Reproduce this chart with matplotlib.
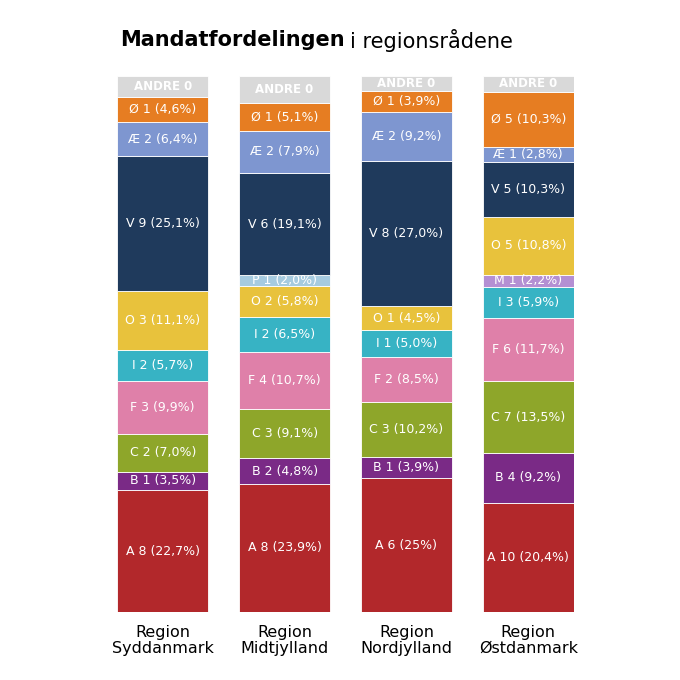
import matplotlib.pyplot as plt

regions = ["Region\nSyddanmark", "Region\nMidtjylland", "Region\nNordjylland", "Region\nØstdanmark"]
# bottom to top per region: (party, seats, percent)
parties = [
    ["A", "B", "C", "F", "I", "O", "V", "Æ", "Ø"],
    ["A", "B", "C", "F", "I", "O", "P", "V", "Æ", "Ø"],
    ["A", "B", "C", "F", "I", "O", "V", "Æ", "Ø"],
    ["A", "B", "C", "F", "I", "M", "O", "V", "Æ", "Ø"],
]
seats = [
    [8, 1, 2, 3, 2, 3, 9, 2, 1],
    [8, 2, 3, 4, 2, 2, 1, 6, 2, 1],
    [6, 1, 3, 2, 1, 1, 8, 2, 1],
    [10, 4, 7, 6, 3, 1, 5, 5, 1, 5],
]
pct = [
    [22.7, 3.5, 7.0, 9.9, 5.7, 11.1, 25.1, 6.4, 4.6],
    [23.9, 4.8, 9.1, 10.7, 6.5, 5.8, 2.0, 19.1, 7.9, 5.1],
    [25.0, 3.9, 10.2, 8.5, 5.0, 4.5, 27.0, 9.2, 3.9],
    [20.4, 9.2, 13.5, 11.7, 5.9, 2.2, 10.8, 10.3, 2.8, 10.3],
]
colors = {"A": "#b2282b", "B": "#7a2a86", "C": "#8ea62a", "F": "#df80a9",
          "I": "#37b3c4", "O": "#e8c23c", "P": "#a6cbe0", "M": "#b48fd3",
          "V": "#1f3a5c", "Æ": "#7e96d0", "Ø": "#e67d22", "ANDRE": "#d9d9d9"}

fig = plt.figure(figsize=(6.8, 6.8), dpi=100)
ax = fig.add_axes([117/680, 0.1, 457/680, 536/680])
w = 0.75
for i in range(4):
    bottom = 0
    for p, s, v in zip(parties[i], seats[i], pct[i]):
        ax.bar(i, v, w, bottom=bottom, color=colors[p], edgecolor="white", linewidth=0.6)
        lab = f"{p} {s} ({v:.1f}%)".replace(".", ",")
        if i == 2 and p == "A":
            lab = "A 6 (25%)"
        ax.text(i, bottom + v / 2, lab, ha="center", va="center", color="white", fontsize=9)
        bottom += v
    rest = 100 - bottom
    ax.bar(i, rest, w, bottom=bottom, color=colors["ANDRE"], edgecolor="white", linewidth=0.6)
    ax.text(i, bottom + rest / 2, "ANDRE 0", ha="center", va="center", color="white", fontsize=8.5, fontweight="bold")
ax.set_xlim(-0.375, 3.375)
ax.set_ylim(0, 100)
ax.axis("off")
for i, r in enumerate(regions):
    ax.text(i, -2.5, r, ha="center", va="top", fontsize=11.5, linespacing=1.05)

t1 = fig.text(120/680, 1 - 40/680, "Mandatfordelingen", fontsize=15, fontweight="bold", va="center")
fig.canvas.draw()
bb = t1.get_window_extent()
fig.text(bb.x1 / 680 + 0.008, 1 - 40/680, "i regionsrådene", fontsize=15, va="center")

fig.savefig("out.png", dpi=100)
